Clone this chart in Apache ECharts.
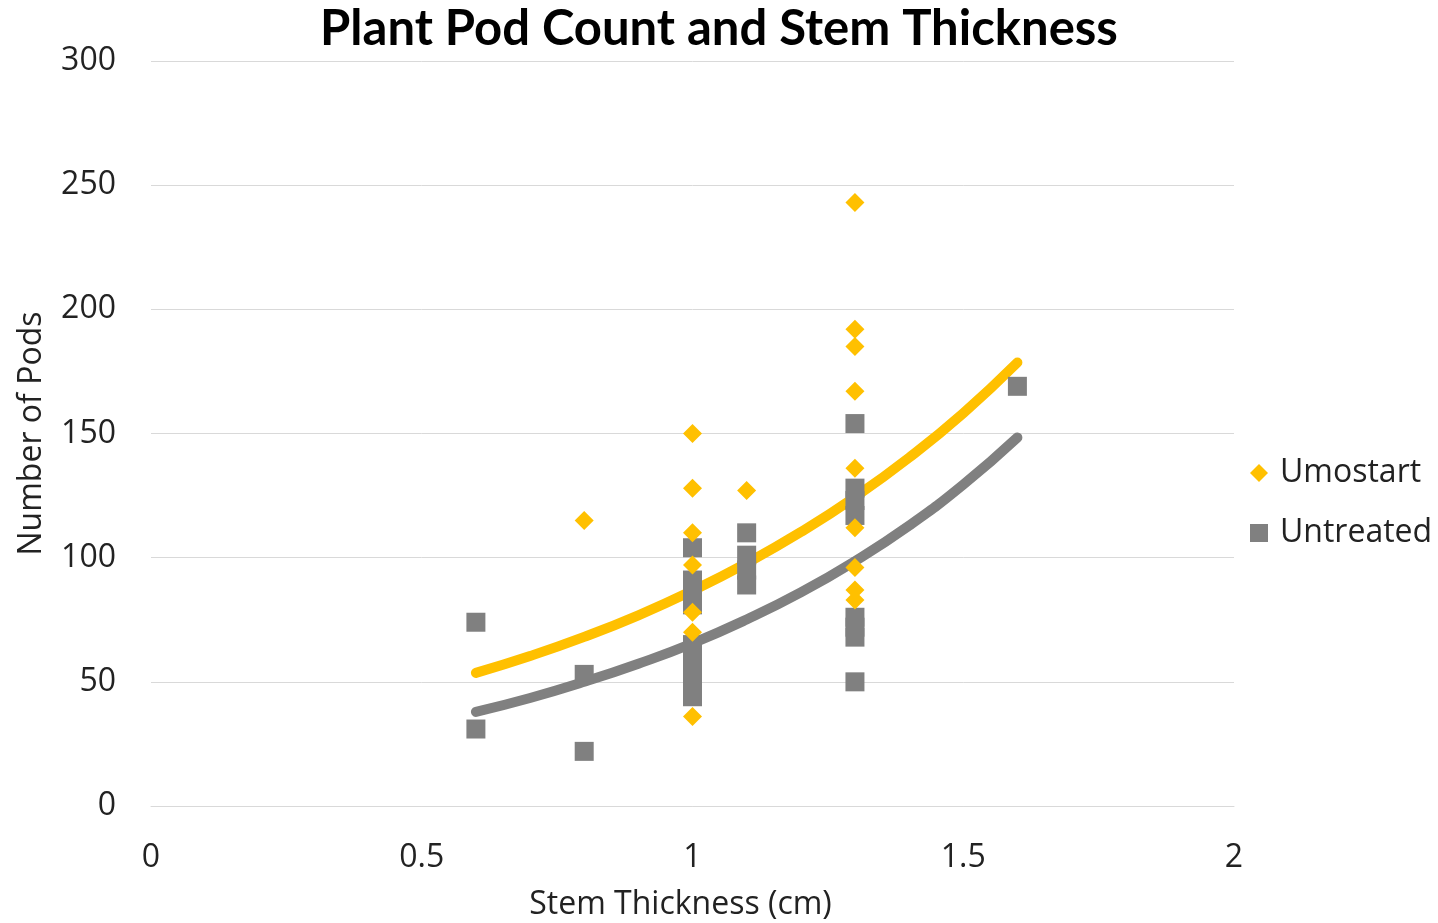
<!DOCTYPE html>
<html>
<head>
<meta charset="utf-8">
<script src="https://cdn.jsdelivr.net/npm/echarts@6/dist/echarts.min.js"></script>
<style>html,body{margin:0;padding:0;background:#fff;}#c{width:1438px;height:923px;}</style>
</head>
<body>
<div id="c"></div>
<script>
// Data
const titleText = 'Plant Pod Count and Stem Thickness';
const xAxisName = 'Stem Thickness (cm)';
const yAxisName = 'Number of Pods';
const seriesNames = ['Umostart', 'Untreated'];

const umostartX = [0.8, 1.0, 1.0, 1.0, 1.0, 1.0, 1.0, 1.0, 1.1, 1.3, 1.3, 1.3, 1.3, 1.3, 1.3, 1.3, 1.3, 1.3];
const umostartY = [115, 150, 128, 110, 97, 78, 70, 36, 127, 243, 192, 185, 167, 136, 112, 96, 87, 83];

const untreatedX = [0.6, 0.6, 0.8, 0.8, 1.0, 1.0, 1.0, 1.0, 1.0, 1.0, 1.0, 1.0, 1.0, 1.0, 1.1, 1.1, 1.1, 1.1, 1.3, 1.3, 1.3, 1.3, 1.3, 1.3, 1.3, 1.3, 1.6];
const untreatedY = [74, 31, 53, 22, 104, 91, 86, 81, 65, 60, 55, 50, 47, 44, 110, 101, 95, 89, 154, 128, 123, 117, 76, 72, 68, 50, 169];

// Trend line points
const trendX = [0.6, 0.7, 0.8, 0.9, 1.0, 1.1, 1.2, 1.3, 1.4, 1.5, 1.6];
const umostartTrendY = [53.6, 60.4, 68.1, 76.8, 86.7, 97.8, 110.3, 124.4, 140.3, 158.2, 178.6];
const untreatedTrendY = [37.9, 43.5, 50.0, 57.3, 65.5, 75.1, 86.0, 98.6, 112.9, 129.4, 148.4];

const xTicks = [0, 0.5, 1, 1.5, 2];
const yTicks = [0, 50, 100, 150, 200, 250, 300];

const yellow = '#FFC000', gray = '#808080';
const font = '"Open Sans", Lato, sans-serif';
const titleFont = 'Lato, "Open Sans", sans-serif';
const textColor = '#222222';

function zip(xs, ys) { return xs.map((x, i) => [x, ys[i]]); }

const chart = echarts.init(document.getElementById('c'));
chart.setOption({
  animation: false,
  title: {
    text: titleText, left: 'center', top: 0,
    textStyle: { fontFamily: titleFont, fontWeight: 'bold', fontSize: 49, color: '#000' }
  },
  grid: { left: 151, right: 204, top: 61, bottom: 117, containLabel: false, outerBoundsMode: 'none' },
  legend: {
    orient: 'vertical', left: 1245, top: 452,
    itemGap: 28, itemWidth: 18, itemHeight: 18,
    textStyle: { fontFamily: font, fontSize: 32, color: textColor, lineHeight: 32, padding: [0, 0, 0, 7] },
    data: [
      { name: seriesNames[0], icon: 'diamond' },
      { name: seriesNames[1], icon: 'rect' }
    ]
  },
  xAxis: {
    type: 'value', min: xTicks[0], max: xTicks[xTicks.length - 1], interval: 0.5,
    name: xAxisName, nameLocation: 'middle', nameGap: 83,
    nameTextStyle: { fontFamily: font, fontSize: 32, color: textColor, padding: [0, 24, 0, 0] },
    axisLine: { lineStyle: { color: '#d9d9d9', width: 1 } },
    axisTick: { show: false },
    splitLine: { show: false },
    axisLabel: { fontFamily: font, fontSize: 32, color: textColor, margin: 36 }
  },
  yAxis: {
    type: 'value', min: yTicks[0], max: yTicks[yTicks.length - 1], interval: 50,
    name: yAxisName, nameLocation: 'middle', nameGap: 103,
    nameTextStyle: { fontFamily: font, fontSize: 32, color: textColor },
    axisLine: { show: false },
    axisTick: { show: false },
    splitLine: { lineStyle: { color: '#d9d9d9', width: 1 } },
    axisLabel: { fontFamily: font, fontSize: 32, color: textColor, margin: 35 }
  },
  series: [
    {
      name: seriesNames[0] + ' trend', type: 'line', data: zip(trendX, umostartTrendY),
      smooth: true, showSymbol: false, z: 1,
      lineStyle: { color: yellow, width: 10, cap: 'round' }, itemStyle: { color: yellow }
    },
    {
      name: seriesNames[1] + ' trend', type: 'line', data: zip(trendX, untreatedTrendY),
      smooth: true, showSymbol: false, z: 1,
      lineStyle: { color: gray, width: 10, cap: 'round' }, itemStyle: { color: gray }
    },
    {
      name: seriesNames[0], type: 'scatter', symbol: 'diamond', symbolSize: 19, z: 3,
      itemStyle: { color: yellow, opacity: 1 }, data: zip(umostartX, umostartY)
    },
    {
      name: seriesNames[1], type: 'scatter', symbol: 'rect', symbolSize: 19, z: 2,
      itemStyle: { color: gray, opacity: 1 }, data: zip(untreatedX, untreatedY)
    }
  ]
});
</script>
</body>
</html>
